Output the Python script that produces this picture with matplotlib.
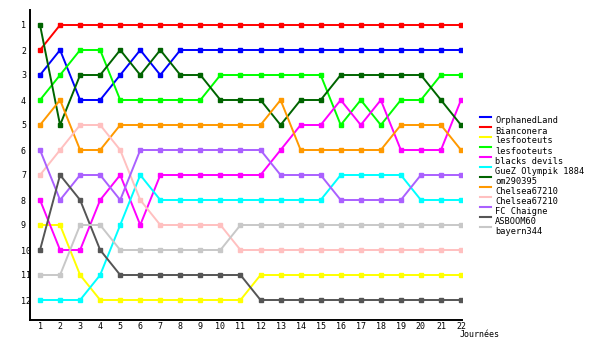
import matplotlib
matplotlib.use('Agg')
import matplotlib.pyplot as plt
from matplotlib.lines import Line2D

days = list(range(1, 23))

teams = ['OrphanedLand', 'Bianconera', 'lesfooteuts', 'lesfooteuts', 'blacks devils',
         'GueZ Olympik 1884', 'om290395', 'Chelsea67210', 'Chelsea67210', 'FC Chaigne',
         'ASBOOM60', 'bayern344']
colors = ['#0000ff', '#ff0000', '#ffff00', '#00ff00', '#ff00ff', '#00ffff',
          '#006400', '#ff9900', '#ffc0c0', '#aa60ff', '#555555', '#c8c8c8']

orphanedland = [3, 2, 4, 4, 3, 2, 3, 2, 2, 2, 2, 2, 2, 2, 2, 2, 2, 2, 2, 2, 2, 2]
bianconera = [2, 1, 1, 1, 1, 1, 1, 1, 1, 1, 1, 1, 1, 1, 1, 1, 1, 1, 1, 1, 1, 1]
lesfooteuts_a = [9, 9, 11, 12, 12, 12, 12, 12, 12, 12, 12, 11, 11, 11, 11, 11, 11, 11, 11, 11, 11, 11]
lesfooteuts_b = [4, 3, 2, 2, 4, 4, 4, 4, 4, 3, 3, 3, 3, 3, 3, 5, 4, 5, 4, 4, 3, 3]
blacks_devils = [8, 10, 10, 8, 7, 9, 7, 7, 7, 7, 7, 7, 6, 5, 5, 4, 5, 4, 6, 6, 6, 4]
gueze = [12, 12, 12, 11, 9, 7, 8, 8, 8, 8, 8, 8, 8, 8, 8, 7, 7, 7, 7, 8, 8, 8]
om290395 = [1, 5, 3, 3, 2, 3, 2, 3, 3, 4, 4, 4, 5, 4, 4, 3, 3, 3, 3, 3, 4, 5]
chelsea_a = [5, 4, 6, 6, 5, 5, 5, 5, 5, 5, 5, 5, 4, 6, 6, 6, 6, 6, 5, 5, 5, 6]
chelsea_b = [7, 6, 5, 5, 6, 8, 9, 9, 9, 9, 10, 10, 10, 10, 10, 10, 10, 10, 10, 10, 10, 10]
fc_chaigne = [6, 8, 7, 7, 8, 6, 6, 6, 6, 6, 6, 6, 7, 7, 7, 8, 8, 8, 8, 7, 7, 7]
asboom60 = [10, 7, 8, 10, 11, 11, 11, 11, 11, 11, 11, 12, 12, 12, 12, 12, 12, 12, 12, 12, 12, 12]
bayern344 = [11, 11, 9, 9, 10, 10, 10, 10, 10, 10, 9, 9, 9, 9, 9, 9, 9, 9, 9, 9, 9, 9]

series = [orphanedland, bianconera, lesfooteuts_a, lesfooteuts_b, blacks_devils, gueze,
          om290395, chelsea_a, chelsea_b, fc_chaigne, asboom60, bayern344]

plt.rcParams['font.family'] = ['DejaVu Sans Mono', 'DejaVu Sans']

fig = plt.figure(figsize=(6, 3.5), dpi=100)
ax = fig.add_axes([30 / 600, 30 / 350, 432 / 600, 310 / 350])

for ranks, col in zip(series, colors):
    ax.plot(days, ranks, color=col, lw=1.4, marker='s', ms=2.2, mec=col, mfc=col)

ax.set_xlim(0.5, 22.05)
ax.set_ylim(12.8, 0.4)
ax.set_xticks(days)
ax.set_yticks(range(1, 13))
ax.tick_params(axis='both', length=0, labelsize=6, colors='black')
ax.tick_params(axis='x', pad=1.5)
ax.tick_params(axis='y', pad=6.5)
for lab in ax.get_yticklabels():
    lab.set_ha('left')

for s in ['top', 'right']:
    ax.spines[s].set_visible(False)
for s in ['left', 'bottom']:
    ax.spines[s].set_linewidth(1.4)
    ax.spines[s].set_color('black')

fig.text(460 / 600, 1 - 334.5 / 350, 'Journées', fontsize=6, va='center', ha='left')

# legend drawn by hand, one row every 10 px
for i, (name, col) in enumerate(zip(teams, colors)):
    yl = 1 - (117 + 10 * i) / 350
    yt = 1 - (121 + 10 * i) / 350
    fig.add_artist(Line2D([480 / 600, 491 / 600], [yl, yl], color=col, lw=1.5,
                          transform=fig.transFigure))
    fig.text(495 / 600, yt, name, fontsize=6.2, va='center', ha='left')

fig.savefig('out.png', dpi=100)
